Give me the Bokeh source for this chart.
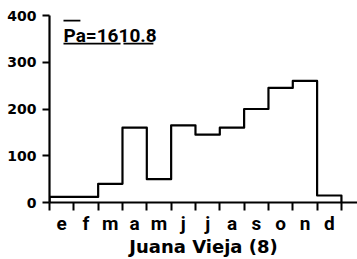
from bokeh.plotting import figure
from bokeh.models import FixedTicker, Range1d
from bokeh.core.properties import value
from bokeh.embed import file_html
from bokeh.resources import INLINE

months = ["e", "f", "m", "a", "m", "j", "j", "a", "s", "o", "n", "d"]
rain = [12, 12, 40, 160, 50, 165, 145, 160, 200, 245, 260, 15]
y_ticks = [0, 100, 200, 300, 400]
annot = "Pa=1610.8"
station = "Juana Vieja (8)"

FONT = "DejaVu Sans"

p = figure(width=357, height=259, output_backend="svg", toolbar_location=None,
           x_range=Range1d(0, 12.66), y_range=Range1d(0, 400),
           min_border_left=49, min_border_right=0, min_border_top=15, min_border_bottom=57)
p.outline_line_color = None
p.xgrid.grid_line_color = None
p.ygrid.grid_line_color = None
p.background_fill_color = "white"
p.border_fill_color = "white"

# outline of monthly steps
xs = [0]
ys = [0]
for i, v in enumerate(rain):
    xs += [i, i + 1]
    ys += [v, v]
xs.append(len(rain))
ys.append(0)
p.line(xs, ys, line_color="black", line_width=2.2, line_join="round")

# annotation
p.text(x=[0.575], y=[358], text=[annot], text_font=value("Roboto"), text_font_size="19px",
       text_font_style="bold", text_color="black", text_baseline="middle", text_align="left")
p.segment(x0=[0.575], y0=[389], x1=[1.27], y1=[389], line_color="black", line_width=1.8)
p.segment(x0=[0.575, 3.04], y0=[340, 340], x1=[2.92, 4.27], y1=[340, 340],
          line_color="black", line_width=1.8)

# x axis
xa = p.xaxis[0]
xa.ticker = FixedTicker(ticks=[i + 0.5 for i in range(12)], minor_ticks=list(range(13)))
xa.major_label_overrides = {i + 0.5: m for i, m in enumerate(months)}
xa.major_tick_out = 0
xa.major_tick_in = 0
xa.minor_tick_out = 8
xa.minor_tick_in = 0
xa.minor_tick_line_width = 2
xa.minor_tick_line_color = "black"
xa.axis_line_width = 2.2
xa.axis_line_color = "black"
xa.major_label_text_font = "Roboto"
xa.major_label_text_font_style = "bold"
xa.major_label_text_font_size = "19px"
xa.major_label_text_color = "black"
xa.major_label_standoff = 1
xa.axis_label = station
xa.axis_label_text_font = FONT
xa.axis_label_text_font_style = "bold"
xa.axis_label_text_font_size = "18px"
xa.axis_label_text_color = "black"
xa.axis_label_standoff = -2

# y axis
ya = p.yaxis[0]
ya.ticker = FixedTicker(ticks=y_ticks, minor_ticks=[])
ya.major_tick_out = 7
ya.major_tick_in = 0
ya.major_tick_line_width = 2
ya.major_tick_line_color = "black"
ya.axis_line_width = 2.2
ya.axis_line_color = "black"
ya.major_label_text_font = FONT
ya.major_label_text_font_style = "bold"
ya.major_label_text_font_size = "14px"
ya.major_label_text_color = "black"
ya.major_label_standoff = 6

open("out.html", "w").write(file_html(p, INLINE))
